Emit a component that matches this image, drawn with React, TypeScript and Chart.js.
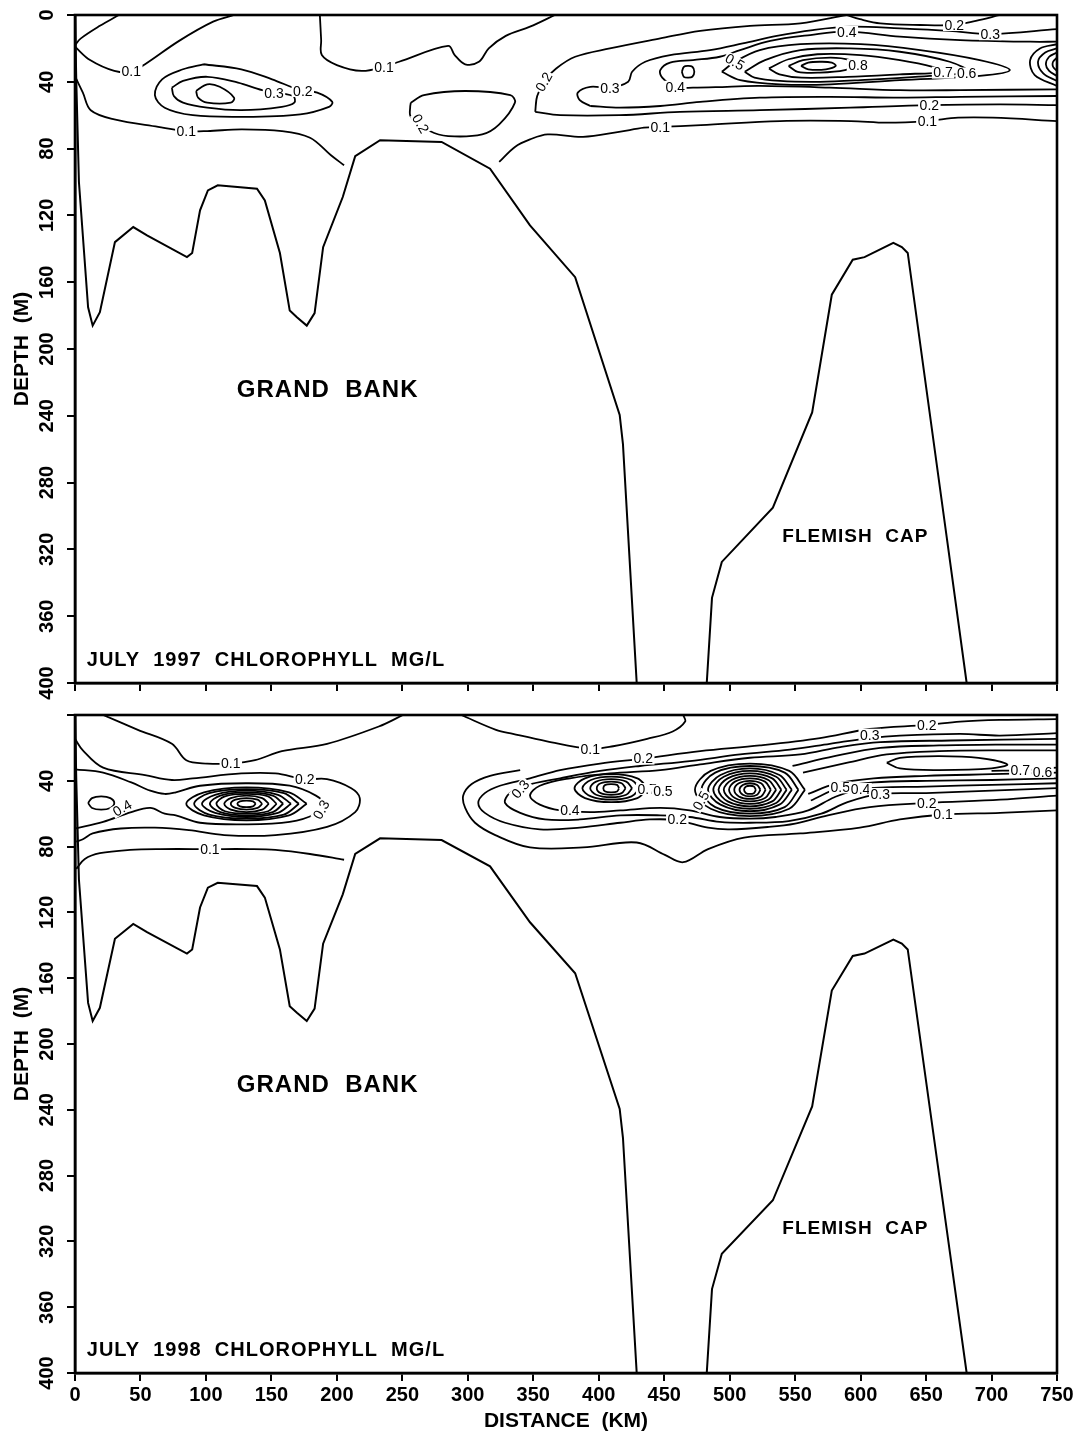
import React, { useEffect, useRef } from 'react';
import { Chart, registerables } from 'chart.js';

Chart.register(...registerables);

type P = [number, number];
type Lab = [number, number, string, number?];

// ---------- axes ----------
const DISTANCE_TICKS = [0, 50, 100, 150, 200, 250, 300, 350, 400, 450, 500, 550, 600, 650, 700, 750];
const DEPTH_TICKS = [0, 40, 80, 120, 160, 200, 240, 280, 320, 360, 400];

// ---------- bathymetry (km, m) ----------
const GRAND_BANK_FLOOR: P[] = [[0, 0], [1, 40], [3, 100], [10, 175], [13.5, 186], [19, 178], [30.5, 136], [44.5, 127], [55, 132], [85.5, 145], [89.5, 142.5], [95.5, 117], [101.5, 105], [109, 102], [139, 104], [145, 111], [156.5, 142.5], [164, 177], [169.5, 181], [177, 186], [183, 178.5], [189.5, 139], [204.5, 109], [214, 84.5], [233, 75], [280, 76], [317, 92], [347.5, 126], [382, 157], [416, 239.5], [418.5, 257], [429, 400]];
const FLEMISH_CAP_FLOOR: P[] = [[482.5, 400], [486.5, 349], [494, 327.5], [533, 295], [563, 238], [578, 167.5], [594, 146.5], [603, 145], [625, 136.5], [631.5, 139], [636, 142.5], [666, 314], [681, 400]];

// ---------- July 1997 chlorophyll contours (km, m) ----------
const c97_a: P[] = [[33.5, 0], [19, 6.5], [4.5, 14], [0, 18]];
const c97_b: P[] = [[0, 19], [11.5, 27], [30, 33.5], [43, 34], [53.5, 29.5], [79.5, 15.5], [105.5, 4], [121.5, 0]];
const c97_c: P[] = [[0.8, 38], [6, 46.5], [12, 57], [30, 62.5], [63.5, 67], [85, 69.5], [101, 69.5], [127, 68.5], [158, 69.5], [179.5, 73.5], [195.5, 84], [205.5, 90]];
const c97_d: P[] = [[98, 29.5], [127, 32.5], [150.5, 38.5], [172, 45], [185, 46.5], [196.5, 52], [194, 55], [172, 59.5], [127, 61], [90, 60], [68.5, 55.5], [61, 48], [66.5, 38.5], [82.5, 32.5], [98, 29.5]];
const c97_e: P[] = [[74, 43.5], [82.5, 39.5], [101, 37], [124.5, 40.5], [143, 45], [166.5, 48.5], [167.5, 52.5], [158, 55], [127, 57], [101, 55.5], [82.5, 52.5], [75.5, 48.5], [74, 43.5]];
const c97_f: P[] = [[92.5, 45.5], [101, 41.5], [110.5, 43], [121.5, 49.5], [119, 52.5], [101, 52.5], [94, 49.5], [92.5, 45.5]];
const c97_g: P[] = [[187, 0], [188, 15], [188.5, 24], [200, 30], [219, 33.5], [236, 31], [247.5, 28], [285, 18.5], [290, 24], [298, 29.5], [308.5, 28], [316, 20], [329, 12.5], [347.5, 7], [366.5, 0]];
const c97_h: P[] = [[256.5, 52.5], [266.5, 48], [298, 45.5], [332.5, 48], [336, 52.5], [324, 65.5], [311, 71.5], [285, 72.5], [271, 69.5], [256.5, 61], [256, 55], [256.5, 52.5]];
const c97_i: P[] = [[324, 88], [336, 79], [347.5, 74.5], [361, 71.5], [388, 73], [415.5, 70], [434.5, 67.5], [447, 67], [478, 66], [538.5, 63.5], [592.5, 63.5], [620, 64.5], [651, 63.5], [674.5, 61.5], [701, 61.5], [750, 63.5]];
const c97_j: P[] = [[351.5, 58], [353, 48.5], [359, 39], [367.5, 32], [382, 25], [408.5, 20], [447, 14], [477.5, 9.5], [515.5, 6.5], [554, 5], [589, 0]];
const c97_k: P[] = [[351.5, 58], [370.5, 60], [416, 60], [462, 58], [523, 57], [592, 55.5], [652.5, 54], [706.5, 53.5], [750, 54]];
const c97_l: P[] = [[589, 0], [599.5, 2.5], [615, 5], [645.5, 6], [671.5, 6], [688, 3.5], [706.5, 0]];
const c97_m: P[] = [[393.5, 54.5], [385.5, 51], [384, 46.5], [393.5, 43], [408.5, 43.5], [422.5, 40], [425.5, 34], [435.5, 28], [454.5, 24], [485, 21], [510, 17], [536, 12.5], [563.5, 9], [592, 7], [630, 8], [668, 9.5], [699, 11.5], [750, 8.5]];
const c97_n: P[] = [[393.5, 54.5], [416, 55.5], [447, 54.5], [477.5, 52], [523, 49.5], [576.5, 49], [630, 49.5], [676, 49], [750, 48.5]];
const c97_o: P[] = [[750, 16], [729.5, 16], [676, 15], [630, 13], [589.5, 10], [561.5, 12], [531, 15.5], [508, 21], [492.5, 25], [472, 27], [454.5, 28.5], [447, 33], [448.5, 37.5], [458.5, 43], [472, 43.5], [498, 43], [523, 42.5], [576.5, 43.5], [630, 45], [676, 45], [750, 44.5]];
const c97_p: P[] = [[463.5, 34], [465, 31], [468, 30.5], [471.5, 31], [473, 34], [471.5, 37], [468, 37.5], [465, 37], [463.5, 34]];
const c97_q: P[] = [[494, 34], [504, 28], [523, 21], [554, 17.5], [600, 17.5], [645.5, 21], [691, 27], [714, 33], [691, 36.5], [630, 39], [577, 41.5], [538.5, 41.5], [508, 39], [494, 34]];
const c97_r: P[] = [[511.5, 34], [527, 27], [554, 21], [592, 20], [630, 22], [668, 28], [682, 34], [653, 36.5], [600, 39], [569, 40], [538.5, 39.5], [519, 37.5], [511.5, 34]];
const c97_s: P[] = [[530, 32], [545, 26.5], [567, 23.5], [600, 24], [630, 27], [655, 31], [663, 34], [630, 35.5], [590, 37], [555, 37.5], [538, 35.5], [530, 32]];
const c97_t: P[] = [[545, 30.5], [556, 27], [577, 25.5], [592, 27], [596, 30], [588, 33], [569, 34.5], [552, 34], [545, 30.5]];
const c97_u: P[] = [[554.5, 30.5], [560, 28.5], [569, 28], [578, 28.5], [581, 30.5], [573.5, 32.5], [560, 32.5], [554.5, 30.5]];
const c97_re1: P[] = [[750, 17.5], [737, 20], [729.5, 27], [733, 36], [750, 42.5]];
const c97_re2: P[] = [[750, 20], [741, 22.5], [735.5, 28], [739.5, 35], [750, 39.5]];
const c97_re3: P[] = [[750, 22.5], [744, 25], [741.5, 29.5], [744, 33.5], [750, 36.5]];
const c97_re4: P[] = [[750, 25.5], [747, 28], [747, 31], [750, 33.5]];

const CONTOURS_1997: P[][] = [c97_a, c97_b, c97_c, c97_d, c97_e, c97_f, c97_g, c97_h, c97_i, c97_j, c97_k, c97_l, c97_m, c97_n, c97_o, c97_p, c97_q, c97_r, c97_s, c97_t, c97_u, c97_re1, c97_re2, c97_re3, c97_re4];

const LABELS_1997: Lab[] = [
  [43, 33.5, '0.1'], [85, 69.5, '0.1'], [174, 45.5, '0.2'], [152, 46.5, '0.3'], [236, 31, '0.1'],
  [264, 65, '0.2', 60], [447, 67, '0.1'], [651, 63.5, '0.1'], [358, 40, '0.2', -60],
  [408.5, 43.5, '0.3'], [458.5, 43, '0.4'], [504, 28, '0.5', 30], [598, 30, '0.8'],
  [589.5, 10, '0.4'], [671.5, 6, '0.2'], [699, 11.5, '0.3'], [663, 34.5, '0.7'], [681, 35, '0.6'],
  [652.5, 54, '0.2'],
];

// ---------- July 1998 chlorophyll contours (km, m) ----------
const c98_a: P[] = [[21.5, 0], [48, 9], [74, 17.5], [85, 27.5], [101, 29.5], [119, 29.5], [137.5, 27.5], [158, 22], [192.5, 17.5], [232, 7], [250.5, 0]];
const c98_b: P[] = [[295, 0], [321.5, 9], [334.5, 11.5], [360.5, 16], [393.5, 20.5], [411, 19], [437, 14.5], [456.5, 10], [466, 4], [464.5, 0]];
const c98_c: P[] = [[0, 14.5], [6, 21.5], [21.5, 32], [53.5, 36.5], [74, 39.5], [90, 38.5], [127, 35.5], [153, 35.5], [175.5, 39], [192.5, 39], [211, 44.5], [217.5, 50.5], [214, 59], [192.5, 68], [153, 73], [114, 73], [87, 70], [61, 68.5], [35, 69], [13.5, 72], [6, 75.5], [1, 77]];
const c98_d: P[] = [[0, 33], [21.5, 35], [43, 41], [57.5, 46], [68.5, 48], [77, 47], [95.5, 43], [130.5, 41.5], [164, 43], [184, 49], [190, 54.5], [184, 60], [164, 65], [130.5, 66.5], [95.5, 65.5], [77, 61], [68.5, 60], [57.5, 56.5], [43, 59], [21.5, 65], [0, 69]];
const c98_e: P[] = [[10, 53.5], [13, 50.5], [20, 49.5], [27, 50.5], [30, 53.5], [27, 56.5], [20, 57.5], [13, 56.5], [10, 53.5]];
const c98_e1: P[] = [[177, 54], [163.5, 61], [131, 64], [98.5, 61], [85, 54], [98.5, 47], [131, 44], [163.5, 47], [177, 54]];
const c98_e2: P[] = [[171, 54], [159.5, 60.5], [131, 63], [102.5, 60.5], [91, 54], [102.5, 47.5], [131, 45], [159.5, 47.5], [171, 54]];
const c98_e3: P[] = [[165, 54], [155, 59.5], [131, 62], [107, 59.5], [97, 54], [107, 48.5], [131, 46], [155, 48.5], [165, 54]];
const c98_e4: P[] = [[159, 54], [151, 59], [131, 61], [111, 59], [103, 54], [111, 49], [131, 47], [151, 49], [159, 54]];
const c98_e5: P[] = [[154, 54], [147.5, 58.5], [131, 60], [114.5, 58.5], [108, 54], [114.5, 49.5], [131, 48], [147.5, 49.5], [154, 54]];
const c98_e6: P[] = [[148, 54], [143, 57.5], [131, 59], [119, 57.5], [114, 54], [119, 50.5], [131, 49], [143, 50.5], [148, 54]];
const c98_e7: P[] = [[143, 54], [139.5, 56.5], [131, 57.5], [122.5, 56.5], [119, 54], [122.5, 51.5], [131, 50.5], [139.5, 51.5], [143, 54]];
const c98_e8: P[] = [[138, 54], [136, 55.5], [131, 56], [126, 55.5], [124, 54], [126, 52.5], [131, 52], [136, 52.5], [138, 54]];
const c98_f: P[] = [[1, 93.5], [7.5, 87.5], [19, 84], [42, 82], [65, 81.5], [103, 81.5], [133.5, 81.5], [153, 82], [179.5, 84.5], [205.5, 88]];
const c98_g: P[] = [[750, 58], [706.5, 59.5], [663, 60.5], [630, 63.5], [599.5, 68.5], [554, 72], [511, 74.5], [483.5, 81.5], [464.5, 89.5], [450.5, 85], [429, 77.5], [388, 80.5], [347.5, 80.5], [321, 73], [305.5, 65.5], [298, 56.5], [296.5, 49], [303, 42], [317, 37], [340, 33.5]];
const c98_h: P[] = [[750, 49], [706.5, 51.5], [650.5, 53.5], [607, 56], [575, 61], [550, 66], [530, 68], [500, 69.5], [483.5, 68.5], [460, 64], [439, 63.5], [416.5, 65.5], [385.5, 68.5], [355, 69.5], [328.5, 65.5], [313, 59.5], [308, 53.5], [313, 47.5], [324.5, 43], [347.5, 38.5], [370.5, 33.5], [401, 29.5], [434, 26.5], [477.5, 22], [523, 18.5], [569, 14], [607, 8.5], [650.5, 6], [676, 4], [706.5, 3], [750, 2.5]];
const c98_i: P[] = [[750, 44.5], [700, 46], [650, 47.5], [615, 48], [590, 53], [570, 60], [545, 64.5], [515.5, 65.5], [492.5, 65], [469.5, 62], [447, 61], [416.5, 61], [385.5, 63.5], [359, 63.5], [340, 59.5], [328.5, 53.5], [332, 47.5], [343.5, 43], [370.5, 38.5], [401, 34], [431.5, 31], [469.5, 28], [508, 24], [546, 21], [576.5, 17.5], [607, 14], [630, 12.5], [676, 11.5], [706.5, 12.5], [750, 11]];
const c98_j: P[] = [[750, 41.5], [700, 42.5], [650, 43.5], [600, 45], [580, 50], [560, 58], [535, 62], [515.5, 63], [492.5, 62], [469.5, 58], [447, 56.5], [416.5, 58], [393.5, 59], [370.5, 58], [355, 54.5], [347.5, 49], [355, 43], [378, 38.5], [408.5, 35.5], [447, 33.5], [477.5, 30], [515.5, 26], [554, 24], [584.5, 19.5], [615, 16.5], [668.5, 15.5], [750, 14.5]];
const c98_u5: P[] = [[548, 31], [580, 25], [615, 20], [660, 18.5], [710, 18], [750, 18]];
const c98_u6: P[] = [[556, 35], [590, 29], [620, 24], [660, 22], [710, 21.5], [750, 21.5]];
const c98_d6: P[] = [[560, 48], [580, 42], [610, 38.5], [650, 37], [700, 36], [750, 35]];
const c98_d5: P[] = [[562, 52], [584.5, 44], [610, 41], [650, 40], [700, 39.5], [750, 38.5]];
const c98_d7: P[] = [[700, 34], [725, 33.5], [750, 32]];
const c98_loop: P[] = [[620, 29], [630, 26], [660, 25], [690, 26], [712, 30], [700, 32.5], [660, 33.5], [630, 32.5], [620, 29]];
const c98_lb1: P[] = [[437.5, 44.5], [429.5, 50.5], [409.5, 53], [389.5, 50.5], [381.5, 44.5], [389.5, 38.5], [409.5, 36], [429.5, 38.5], [437.5, 44.5]];
const c98_lb2: P[] = [[431.5, 44.5], [425, 49.5], [409.5, 51.5], [394, 49.5], [387.5, 44.5], [394, 39.5], [409.5, 37.5], [425, 39.5], [431.5, 44.5]];
const c98_lb3: P[] = [[425.5, 44.5], [421, 48.5], [409.5, 50], [398, 48.5], [393.5, 44.5], [398, 40.5], [409.5, 39], [421, 40.5], [425.5, 44.5]];
const c98_lb4: P[] = [[420.5, 44.5], [417.5, 47.5], [409.5, 48.5], [401.5, 47.5], [398.5, 44.5], [401.5, 41.5], [409.5, 40.5], [417.5, 41.5], [420.5, 44.5]];
const c98_lb5: P[] = [[415.5, 44.5], [414, 46.5], [409.5, 47], [405, 46.5], [403.5, 44.5], [405, 42.5], [409.5, 42], [414, 42.5], [415.5, 44.5]];
const c98_rb1: P[] = [[557.5, 45.5], [545.5, 57], [515.5, 61.5], [485.5, 57], [473.5, 45.5], [485.5, 34], [515.5, 29.5], [545.5, 34], [557.5, 45.5]];
const c98_rb2: P[] = [[552.5, 45.5], [542, 56], [515.5, 60], [489, 56], [478.5, 45.5], [489, 35], [515.5, 31], [542, 35], [552.5, 45.5]];
const c98_rb3: P[] = [[547.5, 45.5], [538, 54.5], [515.5, 58.5], [493, 54.5], [483.5, 45.5], [493, 36.5], [515.5, 32.5], [538, 36.5], [547.5, 45.5]];
const c98_rb4: P[] = [[543.5, 45.5], [535.5, 53.5], [515.5, 57], [495.5, 53.5], [487.5, 45.5], [495.5, 37.5], [515.5, 34], [535.5, 37.5], [543.5, 45.5]];
const c98_rb5: P[] = [[539.5, 45.5], [532.5, 52.5], [515.5, 55.5], [498.5, 52.5], [491.5, 45.5], [498.5, 38.5], [515.5, 35.5], [532.5, 38.5], [539.5, 45.5]];
const c98_rb6: P[] = [[535.5, 45.5], [529.5, 51.5], [515.5, 54], [501.5, 51.5], [495.5, 45.5], [501.5, 39.5], [515.5, 37], [529.5, 39.5], [535.5, 45.5]];
const c98_rb7: P[] = [[531.5, 45.5], [527, 50.5], [515.5, 52.5], [504, 50.5], [499.5, 45.5], [504, 40.5], [515.5, 38.5], [527, 40.5], [531.5, 45.5]];
const c98_rb8: P[] = [[527.5, 45.5], [524, 49.5], [515.5, 51], [507, 49.5], [503.5, 45.5], [507, 41.5], [515.5, 40], [524, 41.5], [527.5, 45.5]];
const c98_rb9: P[] = [[523.5, 45.5], [521, 48.5], [515.5, 49.5], [510, 48.5], [507.5, 45.5], [510, 42.5], [515.5, 41.5], [521, 42.5], [523.5, 45.5]];
const c98_rb10: P[] = [[520, 45.5], [518.5, 47.5], [515.5, 48], [512.5, 47.5], [511, 45.5], [512.5, 43.5], [515.5, 43], [518.5, 43.5], [520, 45.5]];

const CONTOURS_1998: P[][] = [c98_a, c98_b, c98_c, c98_d, c98_e, c98_e1, c98_e2, c98_e3, c98_e4, c98_e5, c98_e6, c98_e7, c98_e8, c98_f, c98_g, c98_h, c98_i, c98_j, c98_u5, c98_u6, c98_d6, c98_d5, c98_d7, c98_loop, c98_lb1, c98_lb2, c98_lb3, c98_lb4, c98_lb5, c98_rb1, c98_rb2, c98_rb3, c98_rb4, c98_rb5, c98_rb6, c98_rb7, c98_rb8, c98_rb9, c98_rb10];

const LABELS_1998: Lab[] = [
  [119, 29.5, '0.1'], [175.5, 39, '0.2'], [36, 56.5, '0.4', -30], [188, 57.5, '0.3', -60], [103, 81.5, '0.1'],
  [393.5, 20.5, '0.1'], [434, 26.5, '0.2'], [340, 45, '0.3', -50], [378, 58, '0.4'],
  [437, 45, '0.7'], [449, 46, '0.5'], [460, 63.5, '0.2'], [478, 52, '0.5', -60],
  [584.5, 44, '0.5'], [600, 45, '0.4'], [615, 48, '0.3'], [650.5, 53.5, '0.2'], [663, 60.5, '0.1'],
  [607, 12, '0.3'], [650.5, 6, '0.2'], [722, 33.5, '0.7'], [739, 34.5, '0.6'],
];

// ---------- text ----------
const TITLE_1997 = 'JULY  1997  CHLOROPHYLL  MG/L';
const TITLE_1998 = 'JULY  1998  CHLOROPHYLL  MG/L';
const GRAND_BANK = 'GRAND  BANK';
const FLEMISH_CAP = 'FLEMISH  CAP';

const FONT = '"Liberation Sans", Arial, sans-serif';

function makeChart(canvas: HTMLCanvasElement, contours: P[][], labels: Lab[], title: string, isBottom: boolean) {
  const contourSets = contours.map((line) => ({
    data: line.map(([x, y]) => ({ x, y })),
    showLine: true,
    borderColor: '#000',
    borderWidth: 1.8,
    pointRadius: 0,
    pointHoverRadius: 0,
    tension: 0.35,
    fill: false,
  }));
  const floorSets = [GRAND_BANK_FLOOR, FLEMISH_CAP_FLOOR].map((line) => ({
    data: line.map(([x, y]) => ({ x, y })),
    showLine: true,
    borderColor: '#000',
    borderWidth: 2,
    pointRadius: 0,
    pointHoverRadius: 0,
    tension: 0,
    fill: false,
  }));

  const annot = {
    id: 'annot',
    afterDatasetsDraw(chart: any) {
      const { ctx, scales } = chart;
      const xs = scales.x;
      const ys = scales.y;
      ctx.save();
      ctx.font = `14px ${FONT}`;
      ctx.textAlign = 'center';
      ctx.textBaseline = 'middle';
      for (const [km, m, t, ang] of labels) {
        const px = xs.getPixelForValue(km);
        const py = ys.getPixelForValue(m);
        const w = ctx.measureText(t).width + 3;
        ctx.save();
        ctx.translate(px, py);
        if (ang) ctx.rotate((ang * Math.PI) / 180);
        ctx.fillStyle = '#fff';
        ctx.fillRect(-w / 2, -6, w, 12);
        ctx.fillStyle = '#000';
        ctx.fillText(t, 0, 1);
        ctx.restore();
      }
      // area annotations
      ctx.fillStyle = '#000';
      ctx.textBaseline = 'middle';
      (ctx as any).letterSpacing = '1px';
      ctx.font = `bold 24px ${FONT}`;
      ctx.textAlign = 'center';
      ctx.fillText(GRAND_BANK, xs.getPixelForValue(193), ys.getPixelForValue(225));
      ctx.font = `bold 19px ${FONT}`;
      ctx.fillText(FLEMISH_CAP, xs.getPixelForValue(596), ys.getPixelForValue(312.5));
      ctx.font = `bold 20px ${FONT}`;
      ctx.textAlign = 'left';
      ctx.fillText(title, xs.getPixelForValue(9), ys.getPixelForValue(386.5));
      (ctx as any).letterSpacing = '0px';
      ctx.restore();
    },
    afterDraw(chart: any) {
      const { ctx, chartArea } = chart;
      ctx.save();
      ctx.strokeStyle = '#000';
      ctx.lineWidth = 2.6;
      ctx.strokeRect(chartArea.left, chartArea.top, chartArea.right - chartArea.left, chartArea.bottom - chartArea.top);
      ctx.restore();
    },
  };

  const tickFont = { family: FONT, weight: 'bold' as const, size: 20 };

  return new Chart(canvas, {
    type: 'scatter',
    data: { datasets: [...contourSets, ...floorSets] as any },
    plugins: [annot],
    options: {
      animation: false,
      responsive: false,
      events: [],
      layout: { padding: isBottom ? { top: 6, right: 32, bottom: 0, left: 0 } : { top: 15, right: 32, bottom: 5, left: 0 } },
      plugins: { legend: { display: false }, tooltip: { enabled: false } },
      scales: {
        x: {
          type: 'linear',
          min: 0,
          max: 750,
          afterBuildTicks: (s: any) => { s.ticks = DISTANCE_TICKS.map((v) => ({ value: v })); },
          afterFit: (s: any) => { s.height = isBottom ? 70 : 12; },
          ticks: { display: isBottom, font: tickFont, color: '#000', maxRotation: 0, minRotation: 0, autoSkip: false, padding: 2 },
          grid: { display: true, drawOnChartArea: false, drawTicks: true, tickLength: 8, color: '#000', lineWidth: 2 },
          border: { display: true, color: '#000', width: 2.5 },
          title: {
            display: isBottom,
            text: 'DISTANCE  (KM)',
            color: '#000',
            font: { family: FONT, weight: 'bold', size: 21 },
            padding: { top: 2, bottom: 9 },
          },
        },
        y: {
          type: 'linear',
          reverse: true,
          min: 0,
          max: 400,
          afterBuildTicks: (s: any) => { s.ticks = DEPTH_TICKS.map((v) => ({ value: v })); },
          afterFit: (s: any) => { s.width = 75; },
          ticks: {
            font: tickFont,
            color: '#000',
            minRotation: 90,
            maxRotation: 90,
            crossAlign: 'center',
            padding: 3,
            autoSkip: false,
            callback: (v: any) => (isBottom && Number(v) === 0 ? '' : String(v)),
          },
          grid: { display: true, drawOnChartArea: false, drawTicks: true, tickLength: 8, color: '#000', lineWidth: 2 },
          border: { display: true, color: '#000', width: 2.5 },
          title: {
            display: true,
            text: 'DEPTH  (M)',
            color: '#000',
            font: { family: FONT, weight: 'bold', size: 21 },
            padding: { top: 10, bottom: 0 },
          },
        },
      },
    } as any,
  });
}

export default function App() {
  const topRef = useRef<HTMLCanvasElement>(null);
  const botRef = useRef<HTMLCanvasElement>(null);

  useEffect(() => {
    const a = makeChart(topRef.current!, CONTOURS_1997, LABELS_1997, TITLE_1997, false);
    const b = makeChart(botRef.current!, CONTOURS_1998, LABELS_1998, TITLE_1998, true);
    return () => {
      a.destroy();
      b.destroy();
    };
  }, []);

  return (
    <div style={{ position: 'absolute', left: 0, top: 0, width: 1089, height: 1443, background: '#fff' }}>
      <canvas ref={topRef} width={1089} height={700} style={{ position: 'absolute', left: 0, top: 0, width: 1089, height: 700 }} />
      <canvas ref={botRef} width={1089} height={743} style={{ position: 'absolute', left: 0, top: 700, width: 1089, height: 743 }} />
    </div>
  );
}
